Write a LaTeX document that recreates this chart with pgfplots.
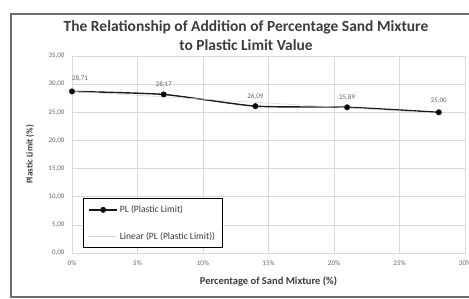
\documentclass[border=0pt]{standalone}
\usepackage{fontspec}
\setmainfont{Carlito}
\usepackage{pgfplots}
\pgfplotsset{compat=1.18}
\definecolor{gridc}{RGB}{217,217,217}
\definecolor{tickc}{RGB}{100,100,100}
\definecolor{framec}{RGB}{110,110,110}
\definecolor{labc}{RGB}{60,60,60}
\begin{document}
\begin{tikzpicture}
\begin{axis}[name=ax, at={(0pt,0pt)}, anchor=south west, scale only axis,
  width=393pt, height=197pt,
  xmin=0, xmax=30, ymin=0, ymax=35,
  xtick={0,5,...,30},
  xticklabels={0\%,5\%,10\%,15\%,20\%,25\%,30\%},
  ytick={0,5,...,35},
  /pgf/number format/.cd, fixed, fixed zerofill, precision=2, use comma, assume math mode=true,
  /pgfplots/.cd,
  grid=major, major grid style={gridc, line width=0.6pt},
  axis line style={gridc}, tick style={draw=none},
  tick label style={font=\fontsize{7}{9}\selectfont, text=tickc},
  xticklabel style={yshift=-4pt},
  yticklabel style={xshift=-4pt},
  every axis x label/.style={at={(axis description cs:0.5,0)}, yshift=-28pt, anchor=center},
  every axis y label/.style={at={(axis description cs:0,0.5)}, xshift=-42pt, rotate=90, anchor=center},
  xlabel style={font=\fontsize{10.5}{12}\selectfont\bfseries, text=labc},
  ylabel style={font=\fontsize{9}{11}\selectfont\bfseries, text=labc},
  xlabel={Percentage of Sand Mixture (\%)},
  ylabel={Plastic Limit (\%)},
  legend style={at={(rel axis cs:0.028,0.025)}, anchor=south west, draw=black, line width=0.9pt,
    font=\fontsize{9.6}{11}\selectfont, text=labc, row sep=14pt, inner sep=5pt,
    legend cell align=left},
  legend image code/.code={\draw[mark repeat=2,mark phase=2,#1] plot coordinates {(0pt,0pt)(14pt,0pt)(28pt,0pt)};},
]
\addplot[black!90, line width=1.4pt, smooth, tension=0.35, mark=*, mark size=2.3pt,
  mark options={solid, fill=black},
  nodes near coords, point meta=y,
  visualization depends on={\thisrow{dx} \as \dx},
  visualization depends on={\thisrow{dy} \as \dy},
  nodes near coords style={font=\fontsize{7}{9}\selectfont, text=tickc, anchor=south, xshift=\dx pt, yshift=\dy pt}]
  table[x=x, y=y] {
x y dx dy
0 28.71 8 6
7 28.17 0 3
14 26.09 0 3
21 25.89 0 3
28 25.00 0 5
};
\addlegendentry{PL (Plastic Limit)}
\addplot[gray!35, line width=0.5pt] coordinates {(0,28.71) (28,24.83)};
\addlegendentry{Linear (PL (Plastic Limit))}
\end{axis}
\pgfresetboundingbox
\begin{scope}[shift={(ax.south west)}, x=1pt, y=1pt]
\path[use as bounding box] (-72,-46) rectangle (397,253);
\draw[line width=1.5pt, framec] (-61,-44) rectangle (404,239);
\node[align=center, font=\fontsize{15.5}{19}\selectfont\bfseries, text=labc] at (174,217.5)
  {The Relationship of Addition of Percentage Sand Mixture\\to Plastic Limit Value};
\end{scope}
\end{tikzpicture}
\end{document}
